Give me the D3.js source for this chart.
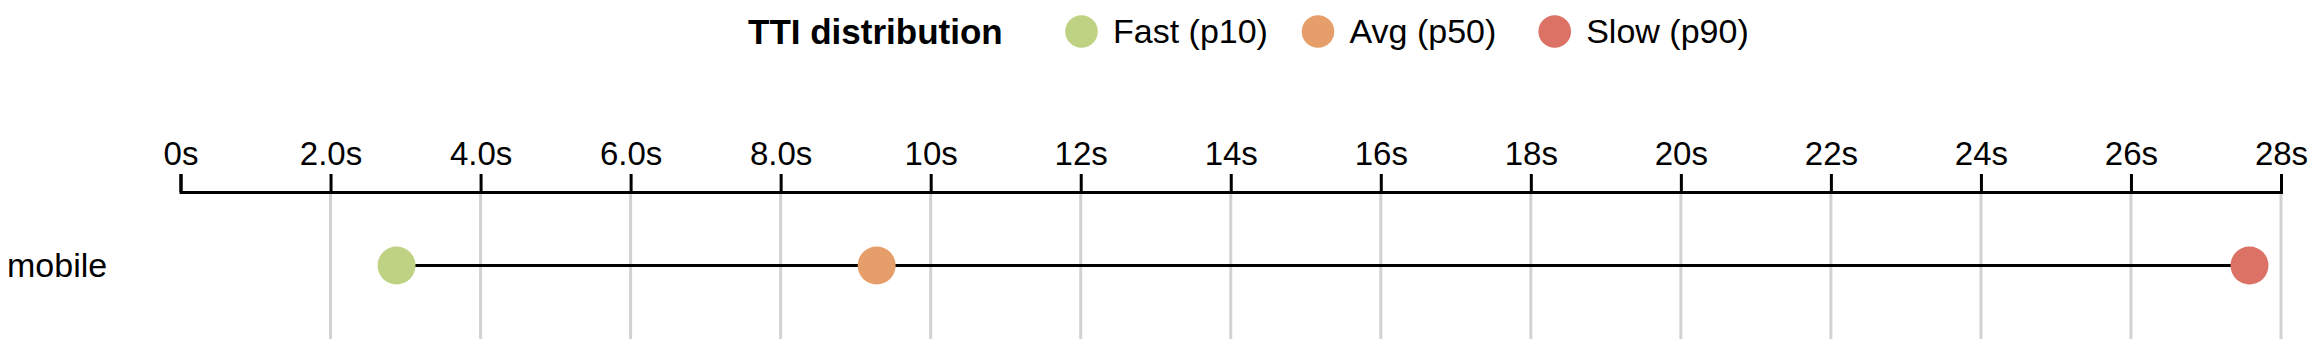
<!DOCTYPE html>
<html>
<head>
<meta charset="utf-8">
<script src="https://cdn.jsdelivr.net/npm/d3@7"></script>
<style>
  html, body { margin: 0; padding: 0; background: #fff; }
  svg { display: block; font-family: "Liberation Sans", Arial, Helvetica, sans-serif; }
</style>
</head>
<body>
<svg id="chart" width="2322" height="364"></svg>
<script>
// ---- data ----
const categories = ["mobile"];
const seriesNames = ["Fast (p10)", "Avg (p50)", "Slow (p90)"];
const seriesColors = ["#bfd283", "#e69e6a", "#dc7166"];
const fastValues = [2.88];
const avgValues = [9.28];
const slowValues = [27.58];
const tickValues = [0, 2, 4, 6, 8, 10, 12, 14, 16, 18, 20, 22, 24, 26, 28];
const tickLabels = ["0s", "2.0s", "4.0s", "6.0s", "8.0s", "10s", "12s", "14s", "16s", "18s", "20s", "22s", "24s", "26s", "28s"];
const legendTitle = "TTI distribution";

// ---- layout ----
const svg = d3.select("#chart");
const axisY = 192, gridBottom = 339;

const x = d3.scaleLinear().domain([0, 28]).range([180.5, 2281]);
const y = d3.scaleBand().domain(categories).range([axisY, gridBottom]);

// gridlines
svg.append("g").selectAll("line")
  .data(tickValues.filter(d => d !== 0))
  .join("line")
  .attr("x1", d => x(d)).attr("x2", d => x(d))
  .attr("y1", axisY).attr("y2", gridBottom)
  .attr("stroke", "#d2d2d2").attr("stroke-width", 3);

// axis
const axis = d3.axisTop(x)
  .tickValues(tickValues)
  .tickFormat((d, i) => tickLabels[i])
  .tickSize(18)
  .tickPadding(9);
const gAxis = svg.append("g").attr("transform", `translate(0,${axisY})`).call(axis);
gAxis.select(".domain").attr("stroke", "#000").attr("stroke-width", 3);
gAxis.selectAll(".tick line").attr("stroke", "#000").attr("stroke-width", 3);
gAxis.selectAll(".tick text").attr("fill", "#000").attr("font-size", 33)
  .attr("font-family", "'Liberation Sans', Arial, Helvetica, sans-serif");

// rows
const rows = categories.map((c, i) => ({
  cat: c,
  vals: [fastValues[i], avgValues[i], slowValues[i]]
}));
const cy = c => y(c) + y.bandwidth() / 2;

const gRows = svg.append("g");
gRows.selectAll("line.conn")
  .data(rows).join("line").attr("class", "conn")
  .attr("x1", d => x(d3.min(d.vals))).attr("x2", d => x(d3.max(d.vals)))
  .attr("y1", d => cy(d.cat)).attr("y2", d => cy(d.cat))
  .attr("stroke", "#000").attr("stroke-width", 3);

rows.forEach(r => {
  gRows.selectAll(null)
    .data(r.vals.map((v, k) => ({ v, k })))
    .join("circle")
    .attr("cx", d => x(d.v)).attr("cy", cy(r.cat)).attr("r", 19)
    .attr("fill", d => seriesColors[d.k]);
});

svg.append("g").selectAll("text")
  .data(categories).join("text")
  .attr("x", 7).attr("y", d => cy(d)).attr("dy", "0.35em")
  .attr("font-size", 34).attr("fill", "#000")
  .text(d => d);

// legend
const legY = 31.5;
const leg = svg.append("g");
leg.append("text").attr("x", 748).attr("y", legY).attr("dy", "0.35em")
  .attr("font-size", 35).attr("font-weight", "bold").attr("fill", "#000")
  .text(legendTitle);
const legCircleX = [1081.5, 1318, 1554.7];
seriesNames.forEach((name, i) => {
  leg.append("circle").attr("cx", legCircleX[i]).attr("cy", legY).attr("r", 16.3)
    .attr("fill", seriesColors[i]);
  leg.append("text").attr("x", legCircleX[i] + 31.5).attr("y", legY).attr("dy", "0.35em")
    .attr("font-size", 34).attr("fill", "#000").text(name);
});
</script>
</body>
</html>
